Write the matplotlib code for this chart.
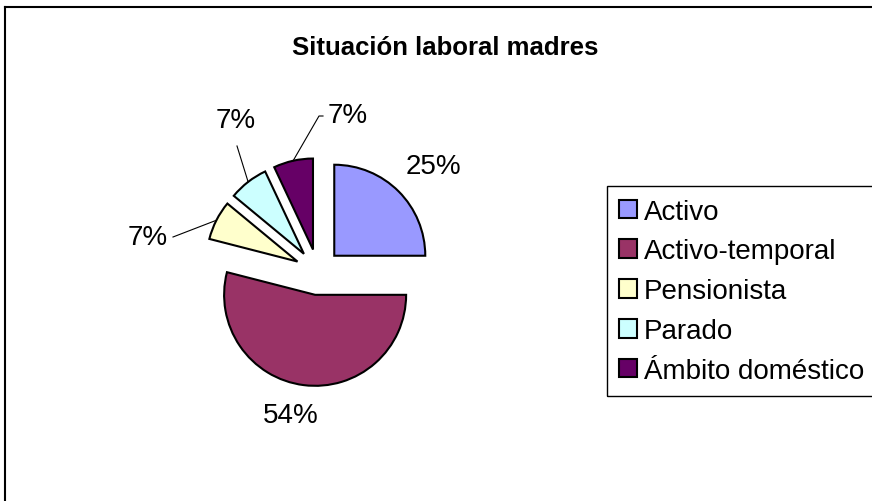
import numpy as np
import matplotlib
matplotlib.use("Agg")
import matplotlib.pyplot as plt
from matplotlib.patches import Rectangle

plt.rcParams['font.family'] = ['Liberation Sans', 'DejaVu Sans']

# Data
categories = ["Activo", "Activo-temporal", "Pensionista", "Parado", "Ámbito doméstico"]
percent = [25, 54, 7, 7, 7]
colors = ["#9999FF", "#993366", "#FFFFCC", "#CCFFFF", "#660066"]

# Canvas in pixel units (y measured from top, converted with py)
W, H = 872, 502
fig = plt.figure(figsize=(W / 100, H / 100), dpi=100)
ax = fig.add_axes([0, 0, 1, 1])


def py(y):
    return H - y


cx, cy, r = 318, py(273), 91
# explode is in data units (pixels here)
wedges, _ = ax.pie(percent, colors=colors, startangle=90, counterclock=False,
                   explode=[23] * len(percent), radius=r, center=(cx, cy),
                   wedgeprops=dict(edgecolor='black', linewidth=1.5),
                   frame=True)
ax.set_xlim(0, W)
ax.set_ylim(0, H)
ax.axis('off')

# Label positions (pixel) and leader line points (before the wedge edge)
label_pos = [(433, 167), (291, 416), (148, 238), (236, 121), (348, 116)]
leader_pts = [None, None, [(173, 238)], [(237, 147)], [(323, 117), (319, 117)]]

for w, p, lp, pts in zip(wedges, percent, label_pos, leader_pts):
    ax.text(lp[0], py(lp[1]), "{}%".format(p), ha='center', va='center',
            fontsize=20)
    if pts is not None:
        tm = np.deg2rad((w.theta1 + w.theta2) / 2)
        ex = w.center[0] + w.r * np.cos(tm)
        ey = w.center[1] + w.r * np.sin(tm)
        xs = [q[0] for q in pts] + [ex]
        ys = [py(q[1]) for q in pts] + [ey]
        ax.plot(xs, ys, color='black', lw=0.8)

# Title
ax.text(445, py(48), "Situación laboral madres", ha='center', va='center',
        fontsize=18.5, fontweight='bold')

# Chart area border (only left and top visible)
ax.plot([5, 5], [py(8), -10], color='black', lw=1.5, solid_capstyle='projecting')
ax.plot([5, W + 10], [py(8), py(8)], color='black', lw=1.5, solid_capstyle='projecting')

# Legend; its box runs past the right edge like the original
leg = ax.legend(wedges, categories, loc='upper left',
                bbox_to_anchor=(607 / W, 1 - 187 / H),
                borderaxespad=0, fontsize=20, frameon=False,
                handlelength=0.64, handleheight=0.64, handletextpad=0.25,
                borderpad=0.45, labelspacing=0.5)
ax.add_patch(Rectangle((607, py(397)), 290, 210, fill=False,
                       edgecolor='black', lw=1.0))

fig.savefig('out.png', dpi=100)
